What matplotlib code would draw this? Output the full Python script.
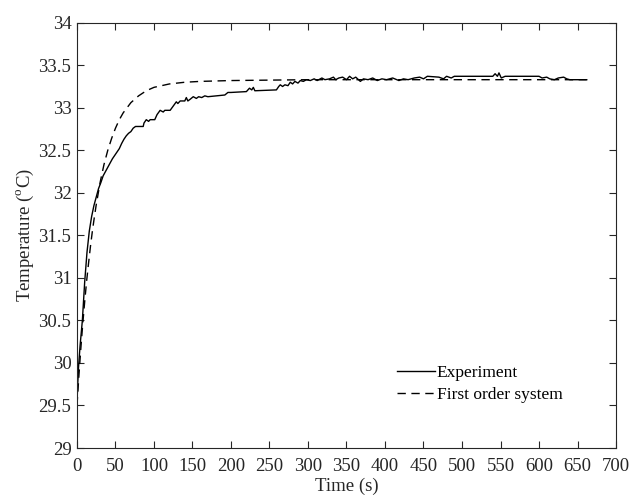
import matplotlib
matplotlib.use('Agg')
import matplotlib.pyplot as plt

plt.rcParams['font.family'] = ['Liberation Serif', 'DejaVu Serif']
plt.rcParams['mathtext.fontset'] = 'custom'
plt.rcParams['mathtext.rm'] = 'Liberation Serif'

# Experiment
exp_t = [0, 2, 4, 7, 10, 13, 16, 19, 22, 25, 28, 31, 34, 37, 40, 43, 46, 49, 52, 55,
         58, 61, 64, 67, 70, 73, 76, 86, 87, 90, 93, 95, 101, 104, 108, 112, 114, 121,
         125, 129, 131, 134, 140, 142, 144, 147, 151, 155, 158, 162, 166, 170, 192, 196,
         200, 220, 224, 227, 229, 231, 259, 262, 264, 267, 270, 274, 277, 280, 283, 287,
         290, 294, 298, 303, 308, 312, 318, 322, 328, 333, 336, 340, 345, 350, 354, 358,
         362, 368, 372, 378, 384, 390, 396, 402, 410, 418, 424, 430, 438, 445, 450, 455,
         470, 476, 480, 486, 490, 540, 543, 546, 548, 551, 556, 600, 604, 610, 614, 620,
         625, 632, 636, 640, 662]
exp_T = [29.55, 29.95, 30.2, 30.5, 30.95, 31.3, 31.55, 31.72, 31.85, 31.95, 32.05, 32.12,
         32.2, 32.25, 32.3, 32.35, 32.4, 32.44, 32.48, 32.52, 32.58, 32.63, 32.67, 32.70,
         32.72, 32.76, 32.78, 32.78, 32.82, 32.86, 32.84, 32.86, 32.86, 32.92, 32.97,
         32.95, 32.97, 32.97, 33.02, 33.07, 33.05, 33.08, 33.08, 33.12, 33.08, 33.10,
         33.13, 33.11, 33.13, 33.12, 33.14, 33.13, 33.15, 33.18, 33.18, 33.19, 33.23,
         33.21, 33.24, 33.20, 33.21, 33.25, 33.27, 33.25, 33.27, 33.26, 33.30, 33.28,
         33.31, 33.29, 33.32, 33.31, 33.33, 33.32, 33.34, 33.32, 33.35, 33.33, 33.34,
         33.36, 33.33, 33.35, 33.36, 33.33, 33.37, 33.34, 33.36, 33.31, 33.34, 33.33,
         33.35, 33.32, 33.34, 33.33, 33.35, 33.32, 33.34, 33.33, 33.35, 33.36, 33.34,
         33.37, 33.36, 33.34, 33.37, 33.35, 33.37, 33.37, 33.40, 33.37, 33.41, 33.35,
         33.37, 33.37, 33.35, 33.36, 33.34, 33.33, 33.35, 33.36, 33.34, 33.33, 33.33]

# First order system
fo_t = [0, 2.5, 5, 7.5, 10, 12.5, 15, 17.5, 20, 22.5, 25, 30, 35, 40, 45, 50, 55, 60,
        70, 80, 90, 100, 120, 140, 160, 200, 300, 400, 500, 600, 662]
fo_T = [29.5, 29.85, 30.17, 30.46, 30.72, 30.96, 31.17, 31.37, 31.55, 31.71, 31.86,
        32.12, 32.33, 32.50, 32.64, 32.76, 32.86, 32.94, 33.06, 33.14, 33.20, 33.24,
        33.28, 33.30, 33.31, 33.32, 33.33, 33.33, 33.33, 33.33, 33.33]

xticks = list(range(0, 701, 50))
yticks = [29, 29.5, 30, 30.5, 31, 31.5, 32, 32.5, 33, 33.5, 34]
ylabels = ['29', '29.5', '30', '30.5', '31', '31.5', '32', '32.5', '33', '33.5', '34']

fig = plt.figure(figsize=(6.32, 4.99), dpi=100)
ax = fig.add_axes([0.1218, 0.1022, 0.8529, 0.8523])

ax.plot(exp_t, exp_T, color='black', lw=1.0, label='Experiment')
ax.plot(fo_t, fo_T, color='black', lw=1.0, linestyle=(0, (6, 4)), label='First order system')

ax.set_xlim(0, 700)
ax.set_ylim(29, 34)
ax.set_xticks(xticks)
ax.set_yticks(yticks)
ax.set_yticklabels(ylabels)
ax.tick_params(direction='in', length=5, width=0.8, top=True, right=True,
               labelsize=13.5, colors='#262626', labelcolor='#262626', pad=4)
ax.tick_params(axis='x', pad=7)
for s in ax.spines.values():
    s.set_color('#262626')
    s.set_linewidth(0.8)

ax.set_xlabel('Time (s)', fontsize=13.5, color='#262626', labelpad=2)
ax.set_ylabel(r'Temperature ($^{\rm o}$C)', fontsize=13.5, color='#262626', labelpad=2)

ax.legend(loc='lower right', bbox_to_anchor=(0.93, 0.068), frameon=False, fontsize=12.5,
          handlelength=2.2, handletextpad=0.1, labelspacing=0.35)

fig.savefig('out.png', dpi=100)
